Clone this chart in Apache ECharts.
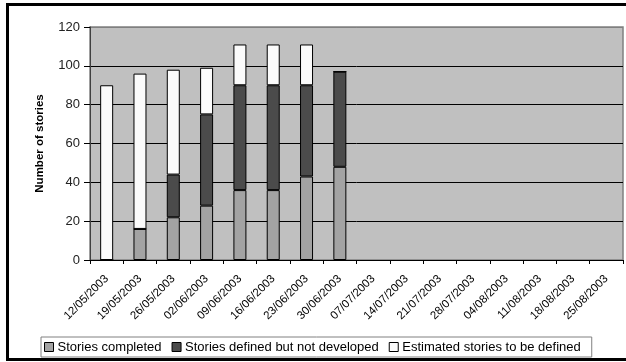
<!DOCTYPE html>
<html>
<head>
<meta charset="utf-8">
<script src="https://cdn.jsdelivr.net/npm/echarts@6/dist/echarts.min.js"></script>
<style>
  html, body { margin: 0; padding: 0; background: #fff; }
  #chart { width: 626px; height: 362px; }
</style>
</head>
<body>
<div id="chart"></div>
<script>
// Weekly story counts for the release plan
const weeks = [
  '12/05/2003', '19/05/2003', '26/05/2003', '02/06/2003',
  '09/06/2003', '16/06/2003', '23/06/2003', '30/06/2003',
  '07/07/2003', '14/07/2003', '21/07/2003', '28/07/2003',
  '04/08/2003', '11/08/2003', '18/08/2003', '25/08/2003'
];
const storiesCompleted = [0, 16, 22, 28, 36, 36, 43, 48, null, null, null, null, null, null, null, null];
const storiesDefined   = [0, 0, 22, 47, 54, 54, 47, 49, null, null, null, null, null, null, null, null];
const storiesEstimated = [90, 80, 54, 24, 21, 21, 21, 0, null, null, null, null, null, null, null, null];
const yTicks = { min: 0, max: 120, step: 20 };

const font = 'Arial, "Liberation Sans", sans-serif';
const chart = echarts.init(document.getElementById('chart'), null, { renderer: 'canvas' });

function barSeries(name, data, color) {
  return {
    name: name,
    type: 'bar',
    stack: 'stories',
    data: data,
    barWidth: 13,
    itemStyle: { color: color, borderColor: '#000', borderWidth: 1 },
    emphasis: { disabled: true },
    animation: false
  };
}

chart.setOption({
  animation: false,
  backgroundColor: '#fff',
  textStyle: { fontFamily: font },
  graphic: [{
    type: 'rect',
    silent: true,
    z: 100,
    shape: { x: 7.5, y: 4.5, width: 700, height: 355 },
    style: { fill: 'none', stroke: '#000', lineWidth: 3 }
  }],
  grid: {
    left: 90, right: 3, top: 27, bottom: 102,
    show: true,
    backgroundColor: '#c0c0c0',
    borderColor: '#808080',
    borderWidth: 1.5
  },
  legend: {
    left: 41,
    top: 337,
    orient: 'horizontal',
    padding: [3, 11, 3, 3],
    itemGap: 10,
    itemWidth: 9,
    itemHeight: 9,
    borderColor: '#808080',
    borderWidth: 1,
    backgroundColor: '#fff',
    icon: 'rect',
    selectedMode: false,
    textStyle: { fontFamily: font, fontSize: 13, color: '#000', lineHeight: 14, padding: [0, 0, 0, -1] },
    itemStyle: { borderColor: '#000', borderWidth: 1 },
    data: ['Stories completed', 'Stories defined but not developed', 'Estimated stories to be defined']
  },
  xAxis: {
    type: 'category',
    data: weeks,
    boundaryGap: true,
    axisLine: { show: true, lineStyle: { color: '#000', width: 1 } },
    axisTick: { show: true, length: 4, lineStyle: { color: '#000' } },
    axisLabel: {
      rotate: 45,
      interval: 0,
      margin: 17,
      fontFamily: font,
      fontSize: 11.5,
      color: '#000'
    },
    splitLine: { show: false }
  },
  yAxis: {
    type: 'value',
    min: yTicks.min,
    max: yTicks.max,
    interval: yTicks.step,
    name: 'Number of stories',
    nameLocation: 'middle',
    nameGap: 44,
    nameRotate: 90,
    nameTextStyle: { fontFamily: font, fontSize: 11.5, fontWeight: 'bold', color: '#000' },
    axisLine: { show: true, lineStyle: { color: '#404040', width: 1 } },
    axisTick: { show: true, length: 6, lineStyle: { color: '#000' } },
    axisLabel: { margin: 10, fontFamily: font, fontSize: 13, color: '#222' },
    splitLine: {
      show: true,
      lineStyle: { color: ['#000', '#000', '#000', '#000', '#000', '#000', '#808080'], width: 1 }
    }
  },
  series: [
    barSeries('Stories completed', storiesCompleted, '#a3a3a3'),
    barSeries('Stories defined but not developed', storiesDefined, '#4b4b4b'),
    barSeries('Estimated stories to be defined', storiesEstimated, '#fbfbfb')
  ]
});
</script>
</body>
</html>
